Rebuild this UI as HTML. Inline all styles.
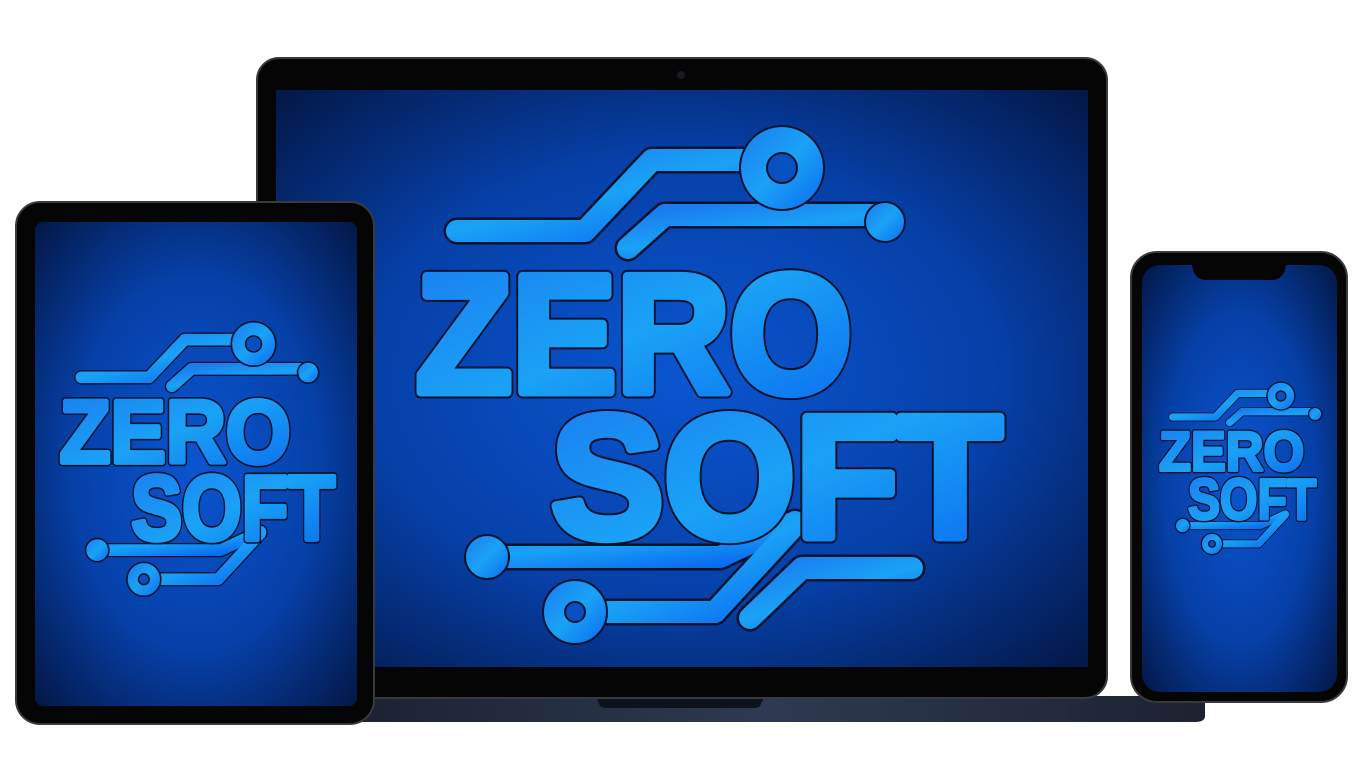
<!DOCTYPE html>
<html><head><meta charset="utf-8"><style>
html,body{margin:0;padding:0;background:#fff;width:1366px;height:768px;overflow:hidden}
svg{display:block}
</style></head><body>
<svg width="1366" height="768" viewBox="0 0 1366 768" xmlns="http://www.w3.org/2000/svg">
<defs>
<radialGradient id="scr" cx="0.5" cy="0.5" r="0.7">
<stop offset="0" stop-color="#0a55d0"/>
<stop offset="0.55" stop-color="#0640a8"/>
<stop offset="1" stop-color="#031848"/>
</radialGradient>
<linearGradient id="txt" x1="0" y1="0" x2="1" y2="1">
<stop offset="0" stop-color="#1a7cf0"/>
<stop offset="0.5" stop-color="#1aa2f6"/>
<stop offset="1" stop-color="#0a6af0"/>
</linearGradient>
<linearGradient id="base" x1="0" y1="0" x2="1" y2="0">
<stop offset="0" stop-color="#1a2130"/>
<stop offset="0.5" stop-color="#2e3a52"/>
<stop offset="1" stop-color="#1c2230"/>
</linearGradient>
</defs>

<path d="M330 696 H1205 V716 Q1205 722 1195 722 H340 Q330 722 330 712 Z" fill="url(#base)"/>
<path d="M596 697 H764 L760 706 Q758 708 754 708 H606 Q602 708 600 706 Z" fill="#0e121c"/>
<rect x="257" y="58" width="850" height="640" rx="22" fill="#050505" stroke="#3a3a3e" stroke-width="2"/>
<rect x="276" y="90" width="812" height="577" fill="url(#scr)"/>
<circle cx="681" cy="75" r="4" fill="#1a1a22"/>

<g>
<g fill="none" stroke-linecap="round" stroke-linejoin="round">
<g stroke="#06122e" stroke-width="27">
<path d="M457 231 H585 L652 160 H745"/><path d="M628 248 L665 215 H875"/>
<path d="M487 557 H720 L795 522"/><path d="M600 612 H715 L795 525"/>
<path d="M750 618 L802 568 H912"/>
</g>
<g stroke="url(#txt)" stroke-width="22">
<path d="M457 231 H585 L652 160 H745"/><path d="M628 248 L665 215 H875"/>
<path d="M487 557 H720 L795 522"/><path d="M600 612 H715 L795 525"/>
<path d="M750 618 L802 568 H912"/>
</g>
</g>
<circle cx="782" cy="168" r="42" fill="url(#txt)" stroke="#06122e" stroke-width="2"/>
<circle cx="782" cy="168" r="15" fill="#0650c0" stroke="#06122e" stroke-width="2"/>
<circle cx="885" cy="222" r="20" fill="url(#txt)" stroke="#06122e" stroke-width="2"/>
<circle cx="487" cy="557" r="22" fill="url(#txt)" stroke="#06122e" stroke-width="2"/>
<circle cx="575" cy="612" r="32" fill="url(#txt)" stroke="#06122e" stroke-width="2"/>
<circle cx="575" cy="612" r="10" fill="#0650c0" stroke="#06122e" stroke-width="2"/>
<g font-family="Liberation Sans, sans-serif" font-weight="bold" stroke-linejoin="round">
<text x="416" y="392" font-size="168" textLength="436" lengthAdjust="spacingAndGlyphs" fill="#06122e" stroke="#06122e" stroke-width="13">ZERO</text>
<text x="551" y="537" font-size="174" textLength="451" lengthAdjust="spacingAndGlyphs" fill="#06122e" stroke="#06122e" stroke-width="13">SOFT</text>
<text x="416" y="392" font-size="168" textLength="436" lengthAdjust="spacingAndGlyphs" fill="url(#txt)" stroke="url(#txt)" stroke-width="9">ZERO</text>
<text x="551" y="537" font-size="174" textLength="451" lengthAdjust="spacingAndGlyphs" fill="url(#txt)" stroke="url(#txt)" stroke-width="9">SOFT</text>
</g>
</g>

<rect x="16" y="202" width="358" height="522" rx="24" fill="#050505" stroke="#3a3a3e" stroke-width="2"/>
<rect x="35" y="222" width="322" height="484" rx="8" fill="url(#scr)"/>
<g transform="translate(-160.9,254.9) scale(0.53)">
<g fill="none" stroke-linecap="round" stroke-linejoin="round">
<g stroke="#06122e" stroke-width="27">
<path d="M457 231 H585 L652 160 H745"/><path d="M628 248 L665 215 H875"/>
<path d="M487 557 H720 L795 522"/><path d="M600 612 H715 L795 525"/>
</g>
<g stroke="url(#txt)" stroke-width="22">
<path d="M457 231 H585 L652 160 H745"/><path d="M628 248 L665 215 H875"/>
<path d="M487 557 H720 L795 522"/><path d="M600 612 H715 L795 525"/>
</g>
</g>
<circle cx="782" cy="168" r="42" fill="url(#txt)" stroke="#06122e" stroke-width="3"/>
<circle cx="782" cy="168" r="15" fill="#0650c0" stroke="#06122e" stroke-width="3"/>
<circle cx="885" cy="222" r="20" fill="url(#txt)" stroke="#06122e" stroke-width="3"/>
<circle cx="487" cy="557" r="22" fill="url(#txt)" stroke="#06122e" stroke-width="3"/>
<circle cx="575" cy="612" r="32" fill="url(#txt)" stroke="#06122e" stroke-width="3"/>
<circle cx="575" cy="612" r="10" fill="#0650c0" stroke="#06122e" stroke-width="3"/>
<g font-family="Liberation Sans, sans-serif" font-weight="bold" stroke-linejoin="round">
<text x="416" y="392" font-size="168" textLength="436" lengthAdjust="spacingAndGlyphs" fill="#06122e" stroke="#06122e" stroke-width="15">ZERO</text>
<text x="551" y="537" font-size="174" textLength="385" lengthAdjust="spacingAndGlyphs" fill="#06122e" stroke="#06122e" stroke-width="15">SOFT</text>
<text x="416" y="392" font-size="168" textLength="436" lengthAdjust="spacingAndGlyphs" fill="url(#txt)" stroke="url(#txt)" stroke-width="9">ZERO</text>
<text x="551" y="537" font-size="174" textLength="385" lengthAdjust="spacingAndGlyphs" fill="url(#txt)" stroke="url(#txt)" stroke-width="9">SOFT</text>
</g>
</g>

<rect x="1131" y="252" width="216" height="450" rx="26" fill="#050505" stroke="#3a3a3e" stroke-width="2"/>
<rect x="1142" y="265" width="195" height="427" rx="18" fill="url(#scr)"/>
<path d="M1192 265 H1286 Q1284 280 1272 280 H1206 Q1194 280 1192 265 Z" fill="#050505"/>
<g transform="translate(1020.5,340.1) scale(0.333)">
<g fill="none" stroke-linecap="round" stroke-linejoin="round">
<g stroke="#06122e" stroke-width="27">
<path d="M457 231 H585 L652 160 H745"/><path d="M628 248 L665 215 H875"/>
<path d="M487 557 H720 L795 522"/><path d="M600 612 H715 L795 525"/>
</g>
<g stroke="url(#txt)" stroke-width="22">
<path d="M457 231 H585 L652 160 H745"/><path d="M628 248 L665 215 H875"/>
<path d="M487 557 H720 L795 522"/><path d="M600 612 H715 L795 525"/>
</g>
</g>
<circle cx="782" cy="168" r="42" fill="url(#txt)" stroke="#06122e" stroke-width="4"/>
<circle cx="782" cy="168" r="15" fill="#0650c0" stroke="#06122e" stroke-width="4"/>
<circle cx="885" cy="222" r="20" fill="url(#txt)" stroke="#06122e" stroke-width="4"/>
<circle cx="487" cy="557" r="22" fill="url(#txt)" stroke="#06122e" stroke-width="4"/>
<circle cx="575" cy="612" r="32" fill="url(#txt)" stroke="#06122e" stroke-width="4"/>
<circle cx="575" cy="612" r="10" fill="#0650c0" stroke="#06122e" stroke-width="4"/>
<g font-family="Liberation Sans, sans-serif" font-weight="bold" stroke-linejoin="round">
<text x="416" y="392" font-size="168" textLength="436" lengthAdjust="spacingAndGlyphs" fill="#06122e" stroke="#06122e" stroke-width="17">ZERO</text>
<text x="503" y="537" font-size="174" textLength="385" lengthAdjust="spacingAndGlyphs" fill="#06122e" stroke="#06122e" stroke-width="17">SOFT</text>
<text x="416" y="392" font-size="168" textLength="436" lengthAdjust="spacingAndGlyphs" fill="url(#txt)" stroke="url(#txt)" stroke-width="9">ZERO</text>
<text x="503" y="537" font-size="174" textLength="385" lengthAdjust="spacingAndGlyphs" fill="url(#txt)" stroke="url(#txt)" stroke-width="9">SOFT</text>
</g>
</g>
</svg>
</body></html>
